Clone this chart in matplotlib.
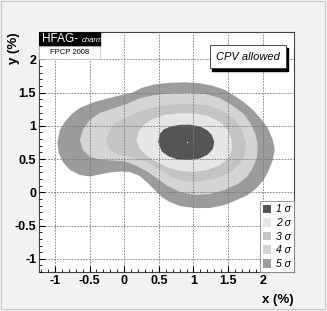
import numpy as np
from matplotlib import pyplot as plt
from matplotlib.patches import Rectangle

plt.rcParams['font.family'] = ['Liberation Sans', 'DejaVu Sans']

# contour outlines (x %, y %), outer to inner
x5 = [-0.964, -0.928, -0.856, -0.755, -0.640, -0.423, -0.207, -0.034, 0.111, 0.255, 0.442, 0.659,
      0.875, 1.091, 1.279, 1.452, 1.596, 1.740, 1.856, 1.986, 2.072, 2.144, 2.173, 2.144, 2.101,
      2.014, 1.914, 1.784, 1.625, 1.452, 1.236, 1.019, 0.803, 0.659, 0.543, 0.442, 0.341, 0.226,
      0.082, -0.062, -0.207, -0.351, -0.495, -0.640, -0.784, -0.885, -0.942]
y5 = [0.742, 0.938, 1.059, 1.179, 1.270, 1.360, 1.420, 1.465, 1.495, 1.571, 1.623, 1.646,
      1.654, 1.639, 1.601, 1.541, 1.450, 1.345, 1.240, 1.089, 0.969, 0.789, 0.637, 0.487, 0.366,
      0.185, 0.065, -0.040, -0.116, -0.191, -0.236, -0.236, -0.206, -0.146, -0.071, 0.035, 0.140, 0.246,
      0.306, 0.313, 0.298, 0.268, 0.238, 0.261, 0.337, 0.456, 0.592]

x4 = [-0.639, -0.596, -0.495, -0.351, -0.178, 0.038, 0.226, 0.442, 0.702, 0.947, 1.164, 1.380,
      1.568, 1.726, 1.827, 1.899, 1.928, 1.914, 1.856, 1.769, 1.640, 1.452, 1.236, 1.019, 0.803,
      0.630, 0.486, 0.341, 0.183, 0.010, -0.178, -0.351, -0.495, -0.596]
y4 = [0.788, 0.938, 1.089, 1.194, 1.255, 1.330, 1.413, 1.465, 1.491, 1.495, 1.480, 1.420,
      1.300, 1.179, 1.029, 0.863, 0.697, 0.517, 0.366, 0.230, 0.125, 0.035, -0.026, -0.041, 0.005,
      0.095, 0.200, 0.306, 0.396, 0.464, 0.479, 0.494, 0.532, 0.637]

x3 = [-0.257, -0.221, -0.135, 0.010, 0.183, 0.370, 0.586, 0.803, 1.019, 1.236, 1.452, 1.611,
      1.712, 1.762, 1.741, 1.654, 1.524, 1.322, 1.091, 0.875, 0.688, 0.543, 0.399, 0.255,
      0.082, -0.091, -0.207]
y3 = [0.758, 0.908, 1.029, 1.119, 1.194, 1.262, 1.307, 1.330, 1.330, 1.300, 1.209, 1.074,
      0.908, 0.727, 0.562, 0.411, 0.298, 0.208, 0.163, 0.163, 0.230, 0.321, 0.411, 0.486,
      0.532, 0.569, 0.637]

x2 = [0.176, 0.212, 0.298, 0.414, 0.587, 0.803, 1.019, 1.207, 1.380, 1.496, 1.553, 1.553,
      1.496, 1.380, 1.193, 0.991, 0.803, 0.615, 0.442, 0.312, 0.226]
y2 = [0.773, 0.923, 1.029, 1.104, 1.164, 1.190, 1.187, 1.149, 1.059, 0.938, 0.788, 0.637,
      0.502, 0.404, 0.336, 0.306, 0.321, 0.381, 0.471, 0.562, 0.652]

x1 = [0.490, 0.514, 0.572, 0.673, 0.803, 0.947, 1.091, 1.192, 1.264, 1.300, 1.279, 1.207,
      1.091, 0.947, 0.774, 0.644, 0.543]
y1 = [0.758, 0.878, 0.946, 0.991, 1.014, 1.017, 0.991, 0.938, 0.863, 0.758, 0.652, 0.569,
      0.509, 0.486, 0.494, 0.539, 0.614]

best_x, best_y = 0.904, 0.758

labels = ['1 σ', '2 σ', '3 σ', '4 σ', '5 σ']
colors = ['#555555', '#e6e6e6', '#c4c4c4', '#d4d4d4', '#9c9c9c']

fig = plt.figure(figsize=(3.27, 3.11), dpi=100, facecolor='#f2f2f2')
fig.patches.append(Rectangle((0.004, 0.006), 0.99, 0.99, transform=fig.transFigure,
                             fill=False, edgecolor='#c8c8c8', lw=0.8))
ax = fig.add_axes([0.119, 0.125, 0.780, 0.772])

outlines = [(x1, y1), (x2, y2), (x3, y3), (x4, y4), (x5, y5)]
handles = [None] * 5
for i in range(4, -1, -1):
    xs, ys = outlines[i]
    handles[i] = ax.fill(xs, ys, color=colors[i], lw=0, label=labels[i], zorder=1)[0]
ax.plot(best_x, best_y, 's', ms=0.7, mew=0, color='white', zorder=2)

ax.set_xlim(-1.23, 2.45)
ax.set_ylim(-1.2, 2.41)
ax.set_xticks(np.arange(-1, 2.01, 0.5))
ax.set_yticks(np.arange(-1, 2.01, 0.5))
ax.set_xticks(np.arange(-1.2, 2.45, 0.1), minor=True)
ax.set_yticks(np.arange(-1.2, 2.41, 0.1), minor=True)
ax.set_xticklabels(['-1', '-0.5', '0', '0.5', '1', '1.5', '2'])
ax.set_yticklabels(['-1', '-0.5', '0', '0.5', '1', '1.5', '2'])
ax.tick_params(which='both', direction='in', top=False, right=False, labelsize=9, pad=2)
ax.tick_params(which='major', length=4)
ax.tick_params(which='minor', length=2)
for t in ax.get_xticklabels() + ax.get_yticklabels():
    t.set_fontweight('bold')
ax.grid(True, which='major', color='#777777', ls=(0, (2, 1.5)), lw=0.6, zorder=3)
ax.set_axisbelow(False)
for s in ax.spines.values():
    s.set_color('#444444')
    s.set_linewidth(0.8)

fig.text(0.897, 0.016, 'x (%)', fontsize=9.5, fontweight='bold', ha='right', va='bottom')
fig.text(0.025, 0.897, 'y (%)', fontsize=9.5, fontweight='bold', rotation=90, ha='left', va='top')

# HFAG logo
ax.add_patch(Rectangle((0, 0.943), 0.238, 0.057, transform=ax.transAxes, facecolor='black',
                       edgecolor='black', zorder=5))
ax.add_patch(Rectangle((0, 0.886), 0.238, 0.057, transform=ax.transAxes, facecolor='white',
                       edgecolor='#bbbbbb', lw=0.5, zorder=5))
ax.text(0.014, 0.970, 'HFAG-', transform=ax.transAxes, color='white', fontsize=8.5,
        va='center', ha='left', zorder=6)
ax.text(0.168, 0.966, 'charm', transform=ax.transAxes, color='white', fontsize=5.5,
        style='italic', va='center', ha='left', zorder=6)
ax.text(0.119, 0.914, 'FPCP 2008', transform=ax.transAxes, fontsize=5.5, va='center',
        ha='center', zorder=6)

# CPV allowed box with shadow
ax.add_patch(Rectangle((0.678, 0.838), 0.298, 0.096, transform=ax.transAxes, facecolor='black',
                       edgecolor='black', zorder=5))
ax.add_patch(Rectangle((0.67, 0.85), 0.298, 0.096, transform=ax.transAxes, facecolor='white',
                       edgecolor='#333333', lw=0.6, zorder=6))
ax.text(0.819, 0.898, 'CPV allowed', transform=ax.transAxes, fontsize=8, style='italic',
        ha='center', va='center', zorder=7)

leg = ax.legend(handles=handles, loc='lower right', bbox_to_anchor=(1.0, 0.0), borderaxespad=0,
                handlelength=0.7, handleheight=0.9, handletextpad=0.5,
                labelspacing=0.35, borderpad=0.3, fancybox=False, framealpha=1,
                edgecolor='#888888', prop={'style': 'italic', 'size': 7.5})
leg.get_frame().set_linewidth(0.6)
leg.set_zorder(8)

fig.savefig('out.png', dpi=100, facecolor=fig.get_facecolor())
